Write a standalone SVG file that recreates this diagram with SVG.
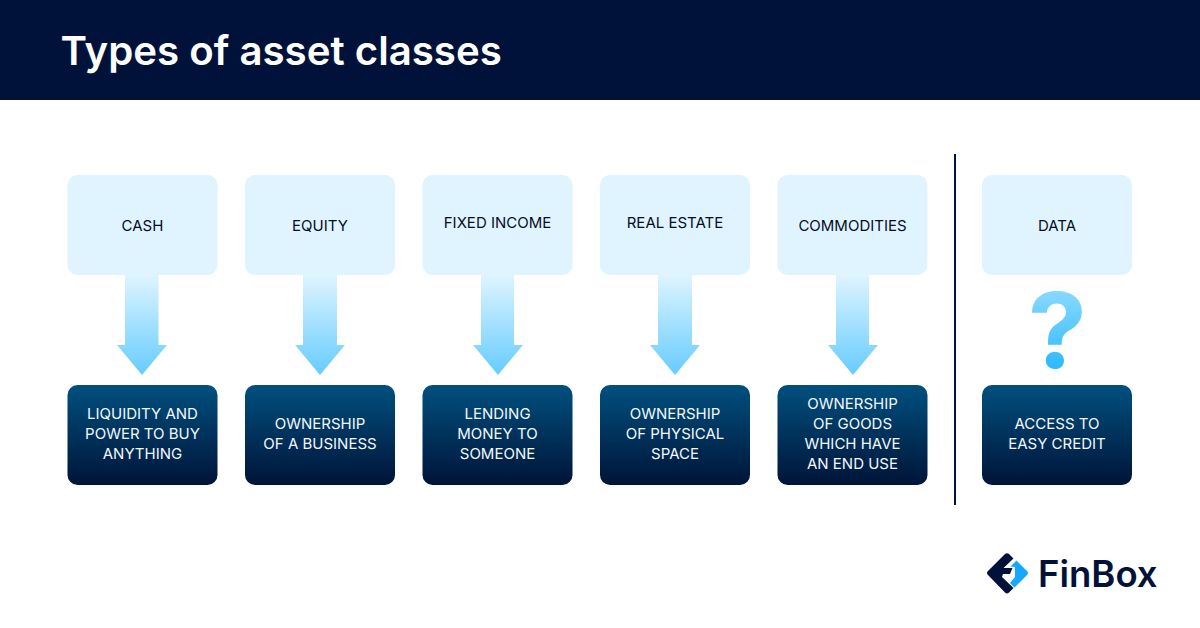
<svg xmlns="http://www.w3.org/2000/svg" width="1200" height="628" viewBox="0 0 1200 628">
<style>
text{font-family:Inter,"Liberation Sans",sans-serif}
.t{font-size:15px;text-anchor:middle;fill:#060d1f}
.b{font-size:15px;text-anchor:middle;fill:#f4f8fb}
.top{fill:#dff4ff}
.bot{fill:url(#dark)}
.arr{fill:url(#arrow)}
</style>
<defs>
<linearGradient id="dark" x1="0" y1="0" x2="0" y2="1"><stop offset="0" stop-color="#00507f"/><stop offset="1" stop-color="#001438"/></linearGradient>
<linearGradient id="arrow" x1="0" y1="0" x2="0" y2="1"><stop offset="0" stop-color="#dff4ff"/><stop offset="1" stop-color="#66ccff"/></linearGradient>
<linearGradient id="q" x1="0" y1="0" x2="0" y2="1"><stop offset="0" stop-color="#a5e3ff"/><stop offset="1" stop-color="#10b0ff"/></linearGradient>
</defs>
<rect id="header" width="1200" height="100" fill="#00123a"/>
<text id="title" x="60.500" y="65" font-size="40.200" font-weight="600" fill="#fff">Types of asset classes</text>
<g id="connectors">
<path class="arr" d="M125 275H158.500V345H167L142 375L117 345H125Z"/>
<path class="arr" d="M303 275H337V345H345L320 375L295 345H303Z"/>
<path class="arr" d="M481 275H514V345H523L498 375L473 345H481Z"/>
<path class="arr" d="M658 275H692V345H700L675 375L650 345H658Z"/>
<path class="arr" d="M836 275H869V345H878L853 375L828 345H836Z"/>
</g>
<path id="divider" d="M955 154V505" stroke="#00123a" stroke-width="2"/>
<g id="cash"><rect class="top" x="67.500" y="175" width="150" height="100" rx="10"/><text class="t" x="142.500" y="231">CASH</text></g>
<g id="equity"><rect class="top" x="245" y="175" width="150" height="100" rx="10"/><text class="t" x="320" y="231">EQUITY</text></g>
<g id="fixed-income"><rect class="top" x="422.500" y="175" width="150" height="100" rx="10"/><text class="t" x="497.500" y="228">FIXED INCOME</text></g>
<g id="real-estate"><rect class="top" x="600" y="175" width="150" height="100" rx="10"/><text class="t" x="675" y="228">REAL ESTATE</text></g>
<g id="commodities"><rect class="top" x="777.500" y="175" width="150" height="100" rx="10"/><text class="t" x="852.500" y="231">COMMODITIES</text></g>
<g id="data"><rect class="top" x="982" y="175" width="150" height="100" rx="10"/><text class="t" x="1057" y="231">DATA</text></g>
<g id="liquidity"><rect class="bot" x="67.500" y="385" width="150" height="100" rx="10"/><text class="b" x="142.500" y="419">LIQUIDITY AND</text><text class="b" x="142.500" y="439">POWER TO BUY</text><text class="b" x="142.500" y="459">ANYTHING</text></g>
<g id="ownership-business"><rect class="bot" x="245" y="385" width="150" height="100" rx="10"/><text class="b" x="320" y="429">OWNERSHIP</text><text class="b" x="320" y="449">OF A BUSINESS</text></g>
<g id="lending"><rect class="bot" x="422.500" y="385" width="150" height="100" rx="10"/><text class="b" x="497.500" y="419">LENDING</text><text class="b" x="497.500" y="439">MONEY TO</text><text class="b" x="497.500" y="459">SOMEONE</text></g>
<g id="ownership-space"><rect class="bot" x="600" y="385" width="150" height="100" rx="10"/><text class="b" x="675" y="419">OWNERSHIP</text><text class="b" x="675" y="439">OF PHYSICAL</text><text class="b" x="675" y="459">SPACE</text></g>
<g id="ownership-goods"><rect class="bot" x="777.500" y="385" width="150" height="100" rx="10"/><text class="b" x="852.500" y="409">OWNERSHIP</text><text class="b" x="852.500" y="429">OF GOODS</text><text class="b" x="852.500" y="449">WHICH HAVE</text><text class="b" x="852.500" y="469">AN END USE</text></g>
<g id="access"><rect class="bot" x="982" y="385" width="150" height="100" rx="10"/><text class="b" x="1057" y="429">ACCESS TO</text><text class="b" x="1057" y="449">EASY CREDIT</text></g>
<text id="question" x="1057.500" y="368" font-size="105" font-weight="700" text-anchor="middle" fill="url(#q)">?</text>
<g id="logo">
<path d="M1005 554Q1007 552.500 1009 554L1013.500 558.500L1003.500 568H1012.500L1010 574H1003L1002 577L1013.500 588L1009 592.500Q1007 594.500 1005 592.500L988 575Q986 573 988 571Z" fill="#00123a"/>
<path d="M1016.500 560.500L1027 571Q1029 573 1027 575L1014.500 587.500L1010 583L1015 577V567L1010.500 566.500Z" fill="#14a8ff"/>
<text x="1038" y="587" font-size="36.500" font-weight="600" fill="#00123a">FinBox</text>
</g>
</svg>
